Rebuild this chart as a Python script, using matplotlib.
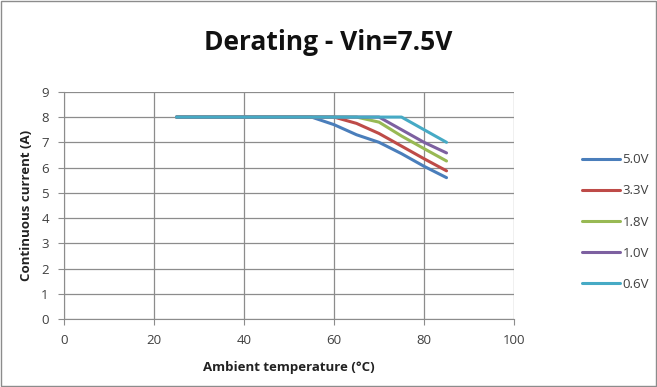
import numpy as np
import matplotlib.pyplot as plt
from matplotlib.patches import Rectangle

temps = [25, 30, 35, 40, 45, 50, 55, 60, 65, 70, 75, 80, 85]
v50 = [8, 8, 8, 8, 8, 8, 8, 7.7, 7.3, 7.0, 6.55, 6.05, 5.6]
v33 = [8, 8, 8, 8, 8, 8, 8, 8, 7.75, 7.35, 6.85, 6.35, 5.87]
v18 = [8, 8, 8, 8, 8, 8, 8, 8, 8, 7.8, 7.25, 6.75, 6.26]
v10 = [8, 8, 8, 8, 8, 8, 8, 8, 8, 8, 7.5, 7.0, 6.58]
v06 = [8, 8, 8, 8, 8, 8, 8, 8, 8, 8, 8, 7.5, 7.0]
labels = ["5.0V", "3.3V", "1.8V", "1.0V", "0.6V"]
colors = ["#4A7EBB", "#BE4B48", "#98B954", "#7D60A0", "#46AAC5"]

plt.rcParams['font.family'] = ['Open Sans', 'DejaVu Sans']

fig = plt.figure(figsize=(6.57, 3.87), dpi=100)
ax = fig.add_axes([0.0974, 0.1757, 0.685, 0.587])

for ys, lab, c in zip([v50, v33, v18, v10, v06], labels, colors):
    ax.plot(temps, ys, color=c, lw=2.2, label=lab, solid_capstyle='round')

ax.set_xlim(0, 100)
ax.set_ylim(0, 9)
ax.set_xticks(range(0, 101, 20))
ax.set_yticks(range(0, 10))
ax.grid(True, color="#8c8c8c", lw=0.9)
ax.set_axisbelow(True)
for s in ["top", "right"]:
    ax.spines[s].set_visible(False)
for s in ["left", "bottom"]:
    ax.spines[s].set_color("#8c8c8c")
ax.tick_params(colors="#8c8c8c", labelcolor="#404040", labelsize=9.5, length=4, pad=7)

ax.set_xlabel("Ambient temperature (°C)", fontsize=9.5, fontweight="bold",
              color="#222222", labelpad=10)
ax.set_ylabel("Continuous current (A)", fontsize=9.5, fontweight="bold",
              color="#222222", labelpad=6)
fig.text(0.5, 0.89, "Derating - Vin=7.5V", ha="center", va="center",
         fontsize=19, fontweight="bold", color="#111111")

fig.legend(loc="upper left", bbox_to_anchor=(0.868, 0.635), frameon=False,
           fontsize=9.5, handlelength=2.9, handletextpad=0.15, labelspacing=1.38,
           labelcolor="#404040")

fig.patches.append(Rectangle((0.002, 0.003), 0.996, 0.994, transform=fig.transFigure,
                             fill=False, ec="#8c8c8c", lw=1))

fig.savefig("out.png", dpi=100)
